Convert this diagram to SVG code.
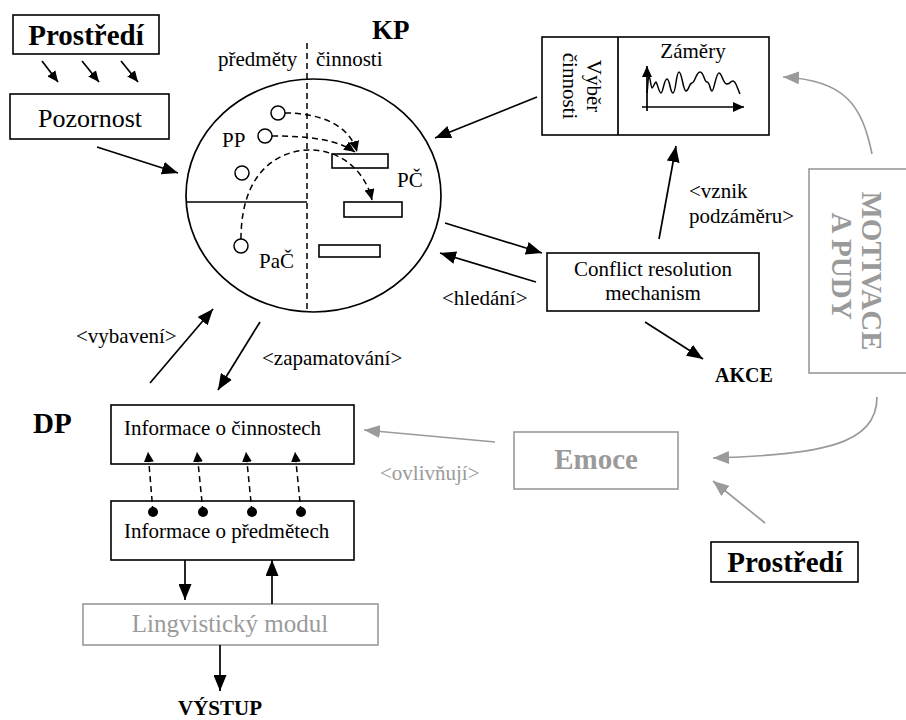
<svg xmlns="http://www.w3.org/2000/svg" width="906" height="720" viewBox="0 0 906 720">
<defs>
<style>
text{font-family:"Liberation Serif","Times New Roman",Tinos,"DejaVu Serif","Noto Serif",serif;fill:#000}
.t{font-size:21px}
.b{font-weight:bold}
.g{fill:#9a9a9a}
.box{fill:#fff;stroke:#000;stroke-width:1.6}
.gbox{fill:#fff;stroke:#9a9a9a;stroke-width:1.6}
.ln{fill:none;stroke:#000;stroke-width:1.7}
.gln{fill:none;stroke:#9a9a9a;stroke-width:1.7}
.dash{fill:none;stroke:#000;stroke-width:1.5;stroke-dasharray:6 4}
</style>
<marker id="ah" viewBox="0 0 16 13" refX="16" refY="6.5" markerWidth="16" markerHeight="13" markerUnits="userSpaceOnUse" orient="auto"><path d="M0,0 L16,6.5 L0,13 z" fill="#000"/></marker>
<marker id="ag" viewBox="0 0 16 13" refX="16" refY="6.5" markerWidth="16" markerHeight="13" markerUnits="userSpaceOnUse" orient="auto"><path d="M0,0 L16,6.5 L0,13 z" fill="#9a9a9a"/></marker>
<marker id="as" viewBox="0 0 11 10" refX="11" refY="5" markerWidth="11" markerHeight="10" markerUnits="userSpaceOnUse" orient="auto"><path d="M0,0 L11,5 L0,10 z" fill="#000"/></marker>
<marker id="ad" viewBox="0 0 10 10" refX="10" refY="5" markerWidth="10" markerHeight="10" markerUnits="userSpaceOnUse" orient="auto"><path d="M0,0 L10,5 L0,10 z" fill="#000"/></marker>
</defs>

<g id="prostredi-top"><rect class="box" x="13" y="15" width="146" height="39"/><text class="b" x="86" y="45" font-size="29" text-anchor="middle">Prostředí</text></g>
<g id="pozornost"><rect class="box" x="10" y="94" width="159" height="45"/><text x="90" y="127" font-size="26" text-anchor="middle">Pozornost</text></g>

<g id="kp">
<text class="b" x="372" y="39" font-size="27">KP</text>
<text class="t" x="218" y="66">předměty</text>
<text class="t" x="316" y="66">činnosti</text>
<ellipse cx="313.5" cy="195.5" rx="127.5" ry="116.5" fill="none" stroke="#000" stroke-width="1.7"/>
<line x1="307" y1="43" x2="307" y2="312" class="dash"/>
<line x1="186" y1="202" x2="307" y2="202" class="ln" stroke-width="1.5"/>
<circle cx="278" cy="113" r="7" fill="#fff" stroke="#000" stroke-width="1.5"/>
<circle cx="265" cy="136" r="7" fill="#fff" stroke="#000" stroke-width="1.5"/>
<circle cx="242" cy="173" r="7" fill="#fff" stroke="#000" stroke-width="1.5"/>
<circle cx="241" cy="246" r="7" fill="#fff" stroke="#000" stroke-width="1.5"/>
<rect class="box" x="332" y="154" width="56" height="14" style="fill:none"/>
<rect class="box" x="344" y="202" width="58" height="15"/>
<rect class="box" x="319" y="245" width="61" height="12"/>
<text class="t" x="222" y="147">PP</text>
<text class="t" x="397" y="187">PČ</text>
<text class="t" x="259" y="268">PaČ</text>
<path class="dash" d="M285,113 C320,113 350,125 357,152" marker-end="url(#as)"/>
<path class="dash" d="M272,136 C310,136 338,140 355,152" marker-end="url(#as)"/>
<path class="dash" d="M241,239 C241,170 280,150 310,150 C340,150 365,170 372,200" marker-end="url(#as)"/>
</g>

<g id="vyber">
<rect class="box" x="542" y="37" width="227" height="98"/>
<line x1="618" y1="37" x2="618" y2="135" class="ln" stroke-width="1.6"/>
<text class="t" transform="translate(587,86) rotate(90)" text-anchor="middle" font-size="22">Výběr</text>
<text class="t" transform="translate(563,86) rotate(90)" text-anchor="middle" font-size="22">činnosti</text>
<text class="t" x="693" y="58" text-anchor="middle">Záměry</text>
<path class="ln" d="M647,111 L647,66" marker-end="url(#as)"/>
<path class="ln" d="M642,107 L744,107" marker-end="url(#as)"/>
<path fill="none" stroke="#000" stroke-width="1.5" d="M647,93 C648,85 648,76 649,76 S651,88 652,88 S655,82 656,82 S659,93 661,93 S664,79 667,79 S670,93 673,93 S676,72 679,72 S683,91 686,91 S689,83 692,83 S696,72 700,72 S704,82 707,82 S710,91 712,91 S716,73 719,73 S723,84 727,84 S730,81 733,81 S737,88 740,94"/>
</g>

<g id="conflict"><rect class="box" x="547" y="253" width="212" height="58"/><text class="t" x="653" y="276" text-anchor="middle">Conflict resolution</text><text class="t" x="653" y="300" text-anchor="middle">mechanism</text></g>
<g id="akce"><text class="b" x="715" y="382" font-size="20">AKCE</text></g>

<g id="motivace"><rect class="gbox" x="809" y="169" width="110" height="204"/>
<text class="b g" transform="translate(862,271) rotate(90)" text-anchor="middle" font-size="29">MOTIVACE</text>
<text class="b g" transform="translate(832,266) rotate(90)" text-anchor="middle" font-size="29">A PUDY</text></g>

<g id="emoce"><rect class="gbox" x="514" y="432" width="164" height="57"/><text class="b g" x="596" y="469" text-anchor="middle" font-size="29">Emoce</text></g>
<g id="prostredi-bottom"><rect class="box" x="711" y="542" width="147" height="40"/><text class="b" x="785" y="572" text-anchor="middle" font-size="29">Prostředí</text></g>

<g id="dp">
<text class="b" x="33" y="433" font-size="29">DP</text>
<rect class="box" x="111" y="405" width="243" height="59"/>
<text class="t" x="124" y="435">Informace o činnostech</text>
<rect class="box" x="111" y="501" width="243" height="59"/>
<text class="t" x="124" y="538">Informace o předmětech</text>
<circle cx="153" cy="512" r="5"/><circle cx="203" cy="512" r="5"/><circle cx="252" cy="512" r="5"/><circle cx="301" cy="512" r="5"/>
</g>
<g id="lingvisticky"><rect class="gbox" x="83" y="604" width="295" height="41"/><text class="g" x="230" y="632" text-anchor="middle" font-size="25">Lingvistický modul</text></g>
<g id="vystup"><text class="b" x="220" y="715" text-anchor="middle" font-size="21">VÝSTUP</text></g>

<g id="labels">
<text class="t" x="689" y="198">&lt;vznik</text>
<text class="t" x="689" y="223">podzáměru&gt;</text>
<text class="t" x="442" y="305">&lt;hledání&gt;</text>
<text class="t" x="76" y="343">&lt;vybavení&gt;</text>
<text class="t" x="262" y="365">&lt;zapamatování&gt;</text>
<text class="t g" x="380" y="480">&lt;ovlivňují&gt;</text>
</g>

<g id="connectors">
<path class="ln" d="M42,61 L58,82" marker-end="url(#as)"/>
<path class="ln" d="M82,61 L99,82" marker-end="url(#as)"/>
<path class="ln" d="M121,61 L138,82" marker-end="url(#as)"/>
<path class="ln" d="M97,147 L178,173" marker-end="url(#ah)"/>
<path class="ln" d="M537,97 L435,138" marker-end="url(#ah)"/>
<path class="ln" d="M445,223 L542,253" marker-end="url(#ah)"/>
<path class="ln" d="M536,282 L440,253" marker-end="url(#ah)"/>
<path class="ln" d="M659,239 L676,146" marker-end="url(#ah)"/>
<path class="ln" d="M645,322 L703,359" marker-end="url(#ah)"/>
<path class="ln" d="M150,383 L213,309" marker-end="url(#ah)"/>
<path class="ln" d="M260,322 L218,390" marker-end="url(#ah)"/>
<path class="gln" d="M872,154 C862,105 845,80 783,77" marker-end="url(#ag)"/>
<path class="gln" d="M877,397 C877,445 820,455 713,458" marker-end="url(#ag)"/>
<path class="gln" d="M765,523 L713,481" marker-end="url(#ag)"/>
<path class="gln" d="M495,442 L364,430" marker-end="url(#ag)"/>
<path class="dash" d="M153,512 L148,452" marker-end="url(#ad)"/>
<path class="dash" d="M203,512 L197,452" marker-end="url(#ad)"/>
<path class="dash" d="M252,512 L246,452" marker-end="url(#ad)"/>
<path class="dash" d="M301,512 L295,452" marker-end="url(#ad)"/>
<path class="ln" d="M185,560 L185,600" marker-end="url(#ah)"/>
<path class="ln" d="M272,604 L272,560" marker-end="url(#ah)"/>
<path class="ln" d="M220,645 L220,691" marker-end="url(#ah)"/>
</g>
</svg>
